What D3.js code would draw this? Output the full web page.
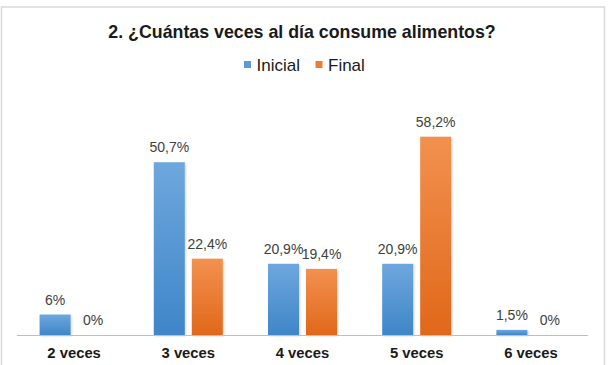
<!DOCTYPE html>
<html>
<head>
<meta charset="utf-8">
<script src="https://cdn.jsdelivr.net/npm/d3@7"></script>
<style>
  html, body { margin: 0; padding: 0; background: #fff; }
  svg { display: block; font-family: "Liberation Sans", Arial, sans-serif; }
</style>
</head>
<body>
<svg id="chart" width="609" height="365"></svg>
<script>
const categories = ["2 veces", "3 veces", "4 veces", "5 veces", "6 veces"];
const seriesNames = ["Inicial", "Final"];
const inicialValues = [6, 50.7, 20.9, 20.9, 1.5];
const finalValues = [0, 22.4, 19.4, 58.2, 0];
const inicialLabels = ["6%", "50,7%", "20,9%", "20,9%", "1,5%"];
const finalLabels = ["0%", "22,4%", "19,4%", "58,2%", "0%"];
const title = "2. ¿Cuántas veces al día consume alimentos?";

const svg = d3.select("#chart");

// gradients
const defs = svg.append("defs");
function grad(id, top, bottom) {
  const g = defs.append("linearGradient").attr("id", id)
    .attr("x1", 0).attr("y1", 0).attr("x2", 0).attr("y2", 1);
  g.append("stop").attr("offset", "0%").attr("stop-color", top);
  g.append("stop").attr("offset", "100%").attr("stop-color", bottom);
}
grad("gBlue", "#6ea7de", "#3f86c8");
grad("gOrange", "#f2914f", "#e0681a");
const colors = { Inicial: "url(#gBlue)", Final: "url(#gOrange)" };
const legendColors = { Inicial: "#5b9bd5", Final: "#ed7d31" };
const f = defs.append("filter").attr("id", "shadow").attr("x", "-20%").attr("y", "-20%").attr("width", "150%").attr("height", "150%");
f.append("feDropShadow").attr("dx", 1).attr("dy", 1).attr("stdDeviation", 1).attr("flood-color", "#000").attr("flood-opacity", 0.18);

// chart border
svg.append("rect")
  .attr("x", 1.5).attr("y", 7).attr("width", 603).attr("height", 380)
  .attr("fill", "#fff").attr("stroke", "#d9d9d9").attr("stroke-width", 1.5);

// title
svg.append("text")
  .attr("x", 302).attr("y", 37.5)
  .attr("text-anchor", "middle")
  .attr("font-size", 17.8).attr("font-weight", "bold").attr("fill", "#1a1a1a")
  .text(title);

// scales
const x0 = d3.scaleBand().domain(categories).range([17, 588]).paddingInner(0).paddingOuter(0);
const x1 = d3.scaleBand().domain(seriesNames)
  .range([22.6, x0.bandwidth() - 22.6]).paddingInner(7 / 38).paddingOuter(0);
const y = d3.scaleLinear().domain([0, 70]).range([335, 335 - 70 * 3.407]);

// legend
const legend = svg.append("g");
const legendItems = [
  { name: "Inicial", sx: 244, tx: 256.5 },
  { name: "Final", sx: 315.5, tx: 328 }
];
legendItems.forEach(it => {
  legend.append("rect").attr("x", it.sx).attr("y", 61).attr("width", 7).attr("height", 7)
    .attr("fill", legendColors[it.name]);
  legend.append("text").attr("x", it.tx).attr("y", 70.5)
    .attr("font-size", 17).attr("fill", "#1a1a1a").text(it.name);
});

// data rows
const rows = categories.map((c, i) => ({
  cat: c,
  vals: [
    { s: "Inicial", v: inicialValues[i], label: inicialLabels[i] },
    { s: "Final", v: finalValues[i], label: finalLabels[i] }
  ]
}));

const groups = svg.append("g").selectAll("g").data(rows).join("g")
  .attr("transform", d => `translate(${x0(d.cat)},0)`);

groups.selectAll("rect").data(d => d.vals.filter(v => v.v > 0)).join("rect")
  .attr("x", d => x1(d.s))
  .attr("y", d => y(d.v))
  .attr("width", x1.bandwidth())
  .attr("height", d => y(0) - y(d.v))
  .attr("fill", d => colors[d.s])
  .attr("filter", "url(#shadow)");

groups.selectAll("text").data(d => d.vals).join("text")
  .attr("x", d => x1(d.s) + x1.bandwidth() / 2)
  .attr("y", d => y(d.v) - 10)
  .attr("text-anchor", "middle")
  .attr("font-size", 14).attr("fill", "#404040")
  .text(d => d.label);

// axis
const xAxis = d3.axisBottom(x0).tickSize(0).tickPadding(0);
const ax = svg.append("g").attr("transform", "translate(0,335)").call(xAxis);
ax.select(".domain").attr("stroke", "#bfbfbf").attr("stroke-width", 1).attr("d", "M17,0.5H588");
ax.selectAll("text")
  .attr("y", 23).attr("dy", null)
  .attr("font-size", 14.8).attr("font-weight", "bold").attr("fill", "#1a1a1a")
  .attr("font-family", "Liberation Sans, Arial, sans-serif");
</script>
</body>
</html>
